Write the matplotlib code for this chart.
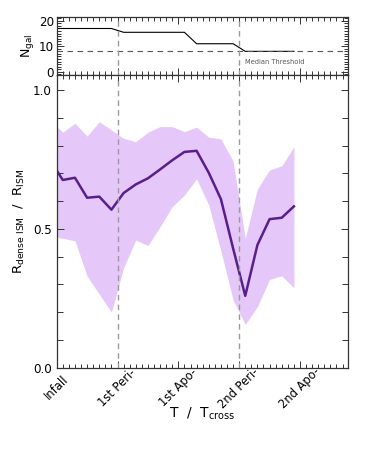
import numpy as np
import matplotlib
matplotlib.use('Agg')
import matplotlib.pyplot as plt
from matplotlib.ticker import MultipleLocator, FormatStrFormatter

plt.rcParams['font.family'] = ['DejaVu Sans']
plt.rcParams['mathtext.fontset'] = 'dejavusans'

# ---- data ----
t = [0.0, 0.1, 0.3, 0.5, 0.7, 0.9, 1.1, 1.3, 1.5, 1.7, 1.9,
     2.1, 2.3, 2.5, 2.7, 2.9, 3.1, 3.3, 3.5, 3.7, 3.9]
ratio_med = [0.71, 0.676, 0.684, 0.612, 0.616, 0.569, 0.629, 0.66, 0.682, 0.714, 0.747,
             0.777, 0.781, 0.702, 0.607, 0.43, 0.259, 0.442, 0.535, 0.54, 0.581]
ratio_hi = [0.868, 0.848, 0.88, 0.834, 0.886, 0.856, 0.826, 0.814, 0.848, 0.868, 0.868,
            0.85, 0.866, 0.83, 0.824, 0.744, 0.466, 0.644, 0.712, 0.727, 0.796]
ratio_lo = [0.47, 0.466, 0.457, 0.33, 0.265, 0.2, 0.36, 0.46, 0.44, 0.508, 0.58,
            0.622, 0.68, 0.586, 0.42, 0.244, 0.156, 0.22, 0.318, 0.331, 0.288]
n_gal = [17, 17, 17, 17, 17, 17, 15.5, 15.5, 15.5, 15.5, 15.5,
         15.5, 11, 11, 11, 11, 8, 8, 8, 8, 8]
threshold = 8
peri_times = [1, 3]
tick_pos = [0, 1, 2, 3, 4]
tick_names = ['Infall', '1st Peri-', '1st Apo-', '2nd Peri-', '2nd Apo-']

fig = plt.figure(figsize=(3.74, 4.49), dpi=100)
ax_top = fig.add_axes([0.1516, 0.833, 0.779, 0.129])
ax = fig.add_axes([0.1516, 0.181, 0.779, 0.652], sharex=ax_top)

fill_col = '#E5C8F9'
line_col = '#5A1E8C'
dash_col = '#9A9A9A'

# ---- top panel: number of galaxies ----
ax_top.plot(t, n_gal, color='black', lw=0.8)
ax_top.axhline(threshold, color='#555555', lw=0.8, ls=(0, (5, 4)))
for p in peri_times:
    ax_top.axvline(p, color=dash_col, lw=1.0, ls=(0, (4, 3)))
ax_top.text(3.1, 3.9, 'Median Threshold', fontsize=4.8, color='#555555', va='center')
ax_top.set_ylim(-1.3, 21.5)
ax_top.set_ylabel(r'N$_{\rm gal}$', fontsize=9, labelpad=2)
ax_top.yaxis.set_major_locator(MultipleLocator(10))
ax_top.yaxis.set_minor_locator(MultipleLocator(1))
ax_top.tick_params(axis='x', labelbottom=False)

# ---- main panel ----
ax.fill_between(t, ratio_lo, ratio_hi, color=fill_col, lw=0)
ax.plot(t, ratio_med, color=line_col, lw=1.8)
for p in peri_times:
    ax.axvline(p, color=dash_col, lw=1.0, ls=(0, (4, 3)))
ax.set_xlim(0, 4.79)
ax.set_ylim(0, 1.054)
ax.yaxis.set_major_locator(MultipleLocator(0.5))
ax.yaxis.set_minor_locator(MultipleLocator(0.1))
ax.yaxis.set_major_formatter(FormatStrFormatter('%.1f'))
ax.set_xticks(tick_pos)
ax.set_xticklabels(tick_names, rotation=45, ha='center', va='center')
ax.xaxis.set_minor_locator(MultipleLocator(0.1))
ax.set_xlabel(r'T  /  T$_{\rm cross}$', fontsize=10, labelpad=-4)
ax.set_ylabel(r'R$_{\rm dense\ ISM}$  /  R$_{\rm ISM}$', fontsize=9.5, labelpad=4)

for a in (ax, ax_top):
    a.tick_params(which='both', direction='in', top=True, right=True,
                  width=0.7, colors='#333333', labelcolor='black', labelsize=8.6)
    a.tick_params(which='major', length=5)
    a.tick_params(which='minor', length=3)
    for s in a.spines.values():
        s.set_linewidth(0.9)
        s.set_color('#333333')
ax.tick_params(axis='x', which='major', pad=14.5, labelsize=8.3)
ax.tick_params(axis='y', which='minor', length=4)
ax_top.tick_params(axis='y', which='major', pad=2)

fig.savefig('out.png', dpi=100)
